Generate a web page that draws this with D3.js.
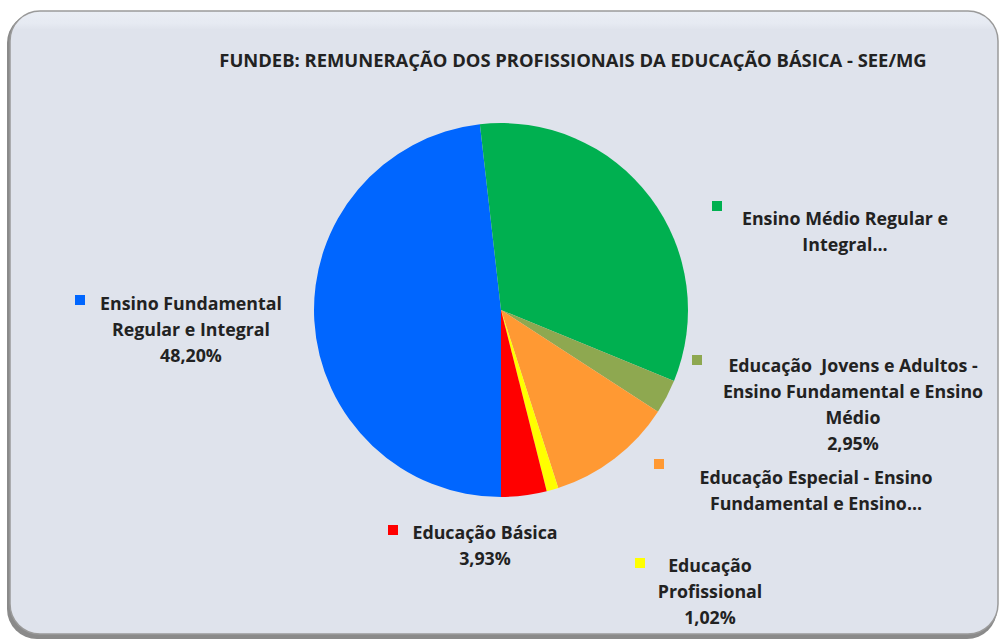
<!DOCTYPE html>
<html>
<head>
<meta charset="utf-8">
<script src="https://cdn.jsdelivr.net/npm/d3@7"></script>
<style>
  html, body { margin: 0; padding: 0; background: #fff; }
  svg { display: block; }
  text { font-family: "Open Sans", Lato, sans-serif; font-weight: 700; fill: #222; }
</style>
</head>
<body>
<svg id="chart" width="999" height="642"></svg>
<script>
// dados do gráfico (ordem das fatias, sentido horário a partir das 6h)
const categories = [
    'Ensino Fundamental Regular e Integral',
    'Ensino Médio Regular e Integral',
    'Educação Jovens e Adultos - Ensino Fundamental e Ensino Médio',
    'Educação Especial - Ensino Fundamental e Ensino Médio',
    'Educação Profissional',
    'Educação Básica',
]
const values = [48.20, 33.00, 2.95, 10.90, 1.02, 3.93]
const colors = ['#0066ff', '#00b050', '#8ea850', '#ff9933', '#ffff00', '#ff0000']

// rótulos como aparecem (o Excel corta alguns)
const labelLines = [
    ['Ensino Fundamental', 'Regular e Integral'],
    ['Ensino Médio Regular e', 'Integral...'],
    ['Educação  Jovens e Adultos -', 'Ensino Fundamental e Ensino', 'Médio'],
    ['Educação Especial - Ensino', 'Fundamental e Ensino...'],
    ['Educação', 'Profissional'],
    ['Educação Básica'],
]
const showValue = [true, false, true, false, true, true]

const title = 'FUNDEB: REMUNERAÇÃO DOS PROFISSIONAIS DA EDUCAÇÃO BÁSICA - SEE/MG'

// posição dos rótulos (centro do texto, 1a linha) e dos marcadores
const labelPos = [
    { x: 191, y: 310, mx: 80, my: 300 },
    { x: 845, y: 225, mx: 717, my: 206 },
    { x: 853, y: 372, mx: 697, my: 360 },
    { x: 816, y: 484, mx: 659, my: 464 },
    { x: 710, y: 572, mx: 640, my: 563 },
    { x: 485, y: 539, mx: 393, my: 530 },
]

const svg = d3.select('#chart')
const defs = svg.append('defs')

const grad = defs.append('linearGradient')
    .attr('id', 'bg')
    .attr('x1', 0).attr('y1', 0).attr('x2', 0).attr('y2', 1)
grad.append('stop').attr('offset', '0%').attr('stop-color', '#eaeef5')
grad.append('stop').attr('offset', '2%').attr('stop-color', '#e6eaf2')
grad.append('stop').attr('offset', '3%').attr('stop-color', '#dfe3ec')
grad.append('stop').attr('offset', '100%').attr('stop-color', '#dfe3ec')

// sombra + caixa arredondada
svg.append('rect')
    .attr('x', 7).attr('y', 13)
    .attr('width', 990).attr('height', 626)
    .attr('rx', 30)
    .attr('fill', '#8a8a8a')

svg.append('rect')
    .attr('x', 10).attr('y', 11)
    .attr('width', 988).attr('height', 623)
    .attr('rx', 30)
    .attr('fill', 'url(#bg)')
    .attr('stroke', '#9a9a9a')
    .attr('stroke-width', 1.5)

svg.append('text')
    .attr('x', 573)
    .attr('y', 67)
    .attr('text-anchor', 'middle')
    .style('font-size', '18.4px')
    .text(title)

// pizza
const cx = 501
const cy = 310
const radius = 187

const pie = d3.pie()
    .sort(null)
    .startAngle(Math.PI)
    .endAngle(3 * Math.PI)

const arc = d3.arc()
    .innerRadius(0)
    .outerRadius(radius)

const g = svg.append('g').attr('transform', `translate(${cx},${cy})`)

g.selectAll('path.slice')
    .data(pie(values))
    .join('path')
    .attr('class', 'slice')
    .attr('d', arc)
    .attr('fill', (d, i) => colors[i])

const fmt = v => d3.format('.2f')(v).replace('.', ',') + '%'
const lineH = 26

const labels = svg.append('g')
categories.forEach((c, i) => {
    const p = labelPos[i]
    const lines = labelLines[i].concat(showValue[i] ? [fmt(values[i])] : [])

    labels.append('rect')
        .attr('x', p.mx - 5)
        .attr('y', p.my - 5)
        .attr('width', 10)
        .attr('height', 10)
        .attr('fill', colors[i])

    const t = labels.append('text')
        .attr('text-anchor', 'middle')
        .style('font-size', '17.8px')
        .style('white-space', 'pre')
    lines.forEach((ln, j) => {
        t.append('tspan')
            .attr('x', p.x)
            .attr('y', p.y + j * lineH)
            .text(ln)
    })
})
</script>
</body>
</html>
